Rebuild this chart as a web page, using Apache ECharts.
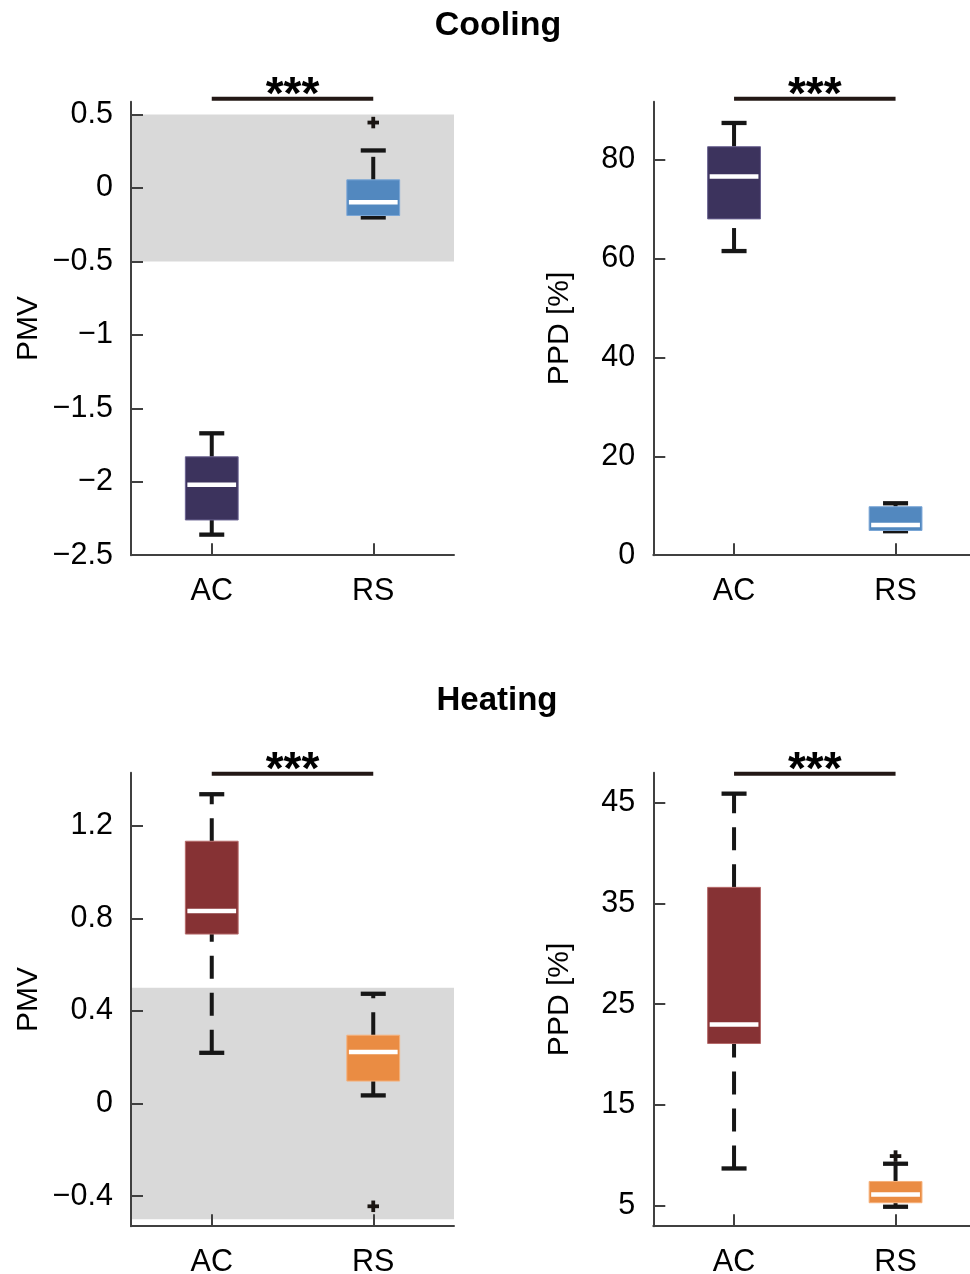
<!DOCTYPE html>
<html>
<head>
<meta charset="utf-8">
<script src="https://cdn.jsdelivr.net/npm/echarts@6/dist/echarts.min.js"></script>
<style>
html,body{margin:0;padding:0;background:#fff;}
#chart{width:970px;height:1274px;}
</style>
</head>
<body>
<div id="chart"></div>
<script>
// ---------------- data ----------------
const categories = ['AC', 'RS'];
// each row: [lower whisker, Q1, median, Q3, upper whisker]
const coolingPMV = [[-2.36, -2.26, -2.02, -1.83, -1.67], [-0.20, -0.187, -0.096, 0.056, 0.256]];
const coolingPMVOutliers = [[1, 0.446]];
const coolingPPD = [[61.5, 68.0, 76.6, 82.6, 87.4], [4.85, 5.0, 6.1, 9.8, 10.5]];
const coolingPPDOutliers = [];
const heatingPMV = [[0.219, 0.732, 0.832, 1.133, 1.336], [0.035, 0.097, 0.223, 0.295, 0.474]];
const heatingPMVOutliers = [[1, -0.444]];
const heatingPPD = [[8.7, 21.1, 23.0, 36.6, 45.9], [4.9, 5.3, 6.12, 7.41, 9.17]];
const heatingPPDOutliers = [[1, 9.93]];
// comfort band (PMV)
const comfortBand = [-0.5, 0.5];
// y tick labels
const ticksCoolPMV = [-2.5, -2, -1.5, -1, -0.5, 0, 0.5];
const ticksCoolPPD = [0, 20, 40, 60, 80];
const ticksHeatPMV = [-0.4, 0, 0.4, 0.8, 1.2];
const ticksHeatPPD = [5, 15, 25, 35, 45];
// significance bars
const sigLevels = [0.608, 92.3, 1.425, 47.88];
const sigText = '***';
const panelTitles = ['Cooling', 'Heating'];

// ---------------- styles ----------------
const FONT = '"Liberation Sans", Arial, Helvetica, sans-serif';
const AX = '#404040';
const colors = {
  coolAC: { fill: '#3c335d', edge: '#6b6391' },
  coolRS: { fill: '#5288bf', edge: '#7aa6d6' },
  heatAC: { fill: '#863234', edge: '#b56a6a' },
  heatRS: { fill: '#ea8c43', edge: '#f5b07a' }
};

const panels = [
  { left: 131, top: 101.7, min: -2.5, max: 0.588, ticks: ticksCoolPMV, box: coolingPMV, out: coolingPMVOutliers, name: 'PMV', gap: 87, band: true, col: [colors.coolAC, colors.coolRS] },
  { left: 653.3, top: 101.7, min: 0, max: 91.7, ticks: ticksCoolPPD, box: coolingPPD, out: coolingPPDOutliers, name: 'PPD [%]', gap: 79, band: false, col: [colors.coolAC, colors.coolRS] },
  { left: 131, top: 772.7, min: -0.53, max: 1.429, ticks: ticksHeatPMV, box: heatingPMV, out: heatingPMVOutliers, name: 'PMV', gap: 87, band: true, col: [colors.heatAC, colors.heatRS] },
  { left: 653.3, top: 772.7, min: 2.97, max: 47.98, ticks: ticksHeatPPD, box: heatingPPD, out: heatingPPDOutliers, name: 'PPD [%]', gap: 79, band: false, col: [colors.heatAC, colors.heatRS] }
];
const GRID_W = 323, GRID_H = 453.5;

function fmt(v) { return String(v).replace('-', '\u2212'); }

function boxRender(col) {
  return function (params, api) {
    const xi = api.value(0);
    const pMin = api.coord([xi, api.value(1)]);
    const cx = pMin[0];
    const yMin = pMin[1];
    const yQ1 = api.coord([xi, api.value(2)])[1];
    const yMed = api.coord([xi, api.value(3)])[1];
    const yQ3 = api.coord([xi, api.value(4)])[1];
    const yMax = api.coord([xi, api.value(5)])[1];
    const band = api.size([1, 0])[0];
    const bw = band * 0.327, cw = band * 0.155, mw = band * 0.302;
    const c = col[xi];
    const black = '#161616';
    return {
      type: 'group',
      children: [
        { type: 'line', shape: { x1: cx, y1: yMin, x2: cx, y2: yQ1 }, style: { stroke: black, lineWidth: 4, lineDash: [23, 14] } },
        { type: 'line', shape: { x1: cx, y1: yQ3, x2: cx, y2: yMax }, style: { stroke: black, lineWidth: 4, lineDash: [23, 14] } },
        { type: 'line', shape: { x1: cx - cw / 2, y1: yMin, x2: cx + cw / 2, y2: yMin }, style: { stroke: black, lineWidth: 4.3 } },
        { type: 'line', shape: { x1: cx - cw / 2, y1: yMax, x2: cx + cw / 2, y2: yMax }, style: { stroke: black, lineWidth: 4.3 } },
        { type: 'rect', shape: { x: cx - bw / 2, y: yQ3, width: bw, height: yQ1 - yQ3 }, style: { fill: c.fill, stroke: c.edge, lineWidth: 1 } },
        { type: 'line', shape: { x1: cx - mw / 2, y1: yMed, x2: cx + mw / 2, y2: yMed }, style: { stroke: '#ffffff', lineWidth: 4.5 } }
      ]
    };
  };
}

function outlierRender(params, api) {
  const p = api.coord([api.value(0), api.value(1)]);
  const s = 11.5, t = 3.8;
  return {
    type: 'group',
    children: [
      { type: 'rect', shape: { x: p[0] - s / 2, y: p[1] - t / 2, width: s, height: t }, style: { fill: '#1a1512' } },
      { type: 'rect', shape: { x: p[0] - t / 2, y: p[1] - s / 2, width: t, height: s }, style: { fill: '#1a1512' } }
    ]
  };
}

function bandRender(params, api) {
  const cs = params.coordSys;
  const y0 = api.coord([0, api.value(1)])[1];
  const y1 = api.coord([0, api.value(2)])[1];
  return { type: 'rect', shape: { x: cs.x, y: y1, width: cs.width, height: y0 - y1 }, style: { fill: '#d9d9d9' } };
}

function sigRender(params, api) {
  const a = api.coord([api.value(0), api.value(2)]);
  const b = api.coord([api.value(1), api.value(2)]);
  return {
    type: 'group',
    children: [
      { type: 'line', shape: { x1: a[0], y1: a[1], x2: b[0], y2: b[1] }, style: { stroke: '#231815', lineWidth: 4 } },
      { type: 'text', x: (a[0] + b[0]) / 2, y: a[1] - 2, style: { text: sigText, fill: '#000', font: 'bold 46px ' + FONT, align: 'center', verticalAlign: 'middle' } }
    ]
  };
}

const grid = [], xAxis = [], yAxis = [], series = [];
panels.forEach((p, i) => {
  grid.push({ left: p.left, top: p.top, width: GRID_W, height: GRID_H, containLabel: false, outerBoundsMode: 'none' });
  xAxis.push({
    gridIndex: i, type: 'category', data: categories, boundaryGap: true, z: 10,
    axisLine: { show: true, onZero: false, lineStyle: { color: AX, width: 2 } },
    axisTick: { show: true, inside: true, alignWithLabel: true, length: 12, lineStyle: { color: AX, width: 2 } },
    axisLabel: { show: true, color: '#000', fontSize: 30.5, fontFamily: FONT, margin: 21 },
    splitLine: { show: false }
  });
  yAxis.push({
    gridIndex: i, type: 'value', min: p.min, max: p.max, z: 10,
    axisLine: { show: true, onZero: false, lineStyle: { color: AX, width: 2 } },
    axisTick: { show: true, inside: true, length: 12, lineStyle: { color: AX, width: 2 }, customValues: p.ticks },
    axisLabel: { show: true, color: '#000', fontSize: 30.5, fontFamily: FONT, margin: 18, padding: [4, 0, 0, 0], customValues: p.ticks, formatter: fmt },
    splitLine: { show: false },
    name: p.name, nameLocation: 'middle', nameGap: p.gap, nameMoveOverlap: false,
    nameTextStyle: { color: '#000', fontSize: 30, fontFamily: FONT }
  });
  if (p.band) {
    series.push({ type: 'custom', xAxisIndex: i, yAxisIndex: i, z: 1, silent: true, clip: false,
      renderItem: bandRender, encode: { x: 0, y: [1, 2] }, data: [[0, comfortBand[0], comfortBand[1]]] });
  }
  series.push({ type: 'custom', xAxisIndex: i, yAxisIndex: i, z: 3, silent: true, clip: false,
    renderItem: boxRender(p.col), encode: { x: 0, y: [1, 2, 3, 4, 5] },
    data: p.box.map((r, k) => [k].concat(r)) });
  if (p.out.length) {
    series.push({ type: 'custom', xAxisIndex: i, yAxisIndex: i, z: 4, silent: true, clip: false,
      renderItem: outlierRender, encode: { x: 0, y: 1 }, data: p.out });
  }
  series.push({ type: 'custom', xAxisIndex: i, yAxisIndex: i, z: 4, silent: true, clip: false,
    renderItem: sigRender, encode: { x: 0, y: 2 }, data: [[0, 1, sigLevels[i]]] });
});

const chart = echarts.init(document.getElementById('chart'), null, { renderer: 'canvas' });
chart.setOption({
  animation: false,
  backgroundColor: '#ffffff',
  textStyle: { fontFamily: FONT },
  graphic: [
    { type: 'text', x: 498, y: 26, style: { text: panelTitles[0], font: 'bold 34px ' + FONT, fill: '#000', align: 'center', verticalAlign: 'middle' } },
    { type: 'text', x: 497, y: 701, style: { text: panelTitles[1], font: 'bold 33px ' + FONT, fill: '#000', align: 'center', verticalAlign: 'middle' } }
  ],
  grid: grid,
  xAxis: xAxis,
  yAxis: yAxis,
  series: series
});
</script>
</body>
</html>
